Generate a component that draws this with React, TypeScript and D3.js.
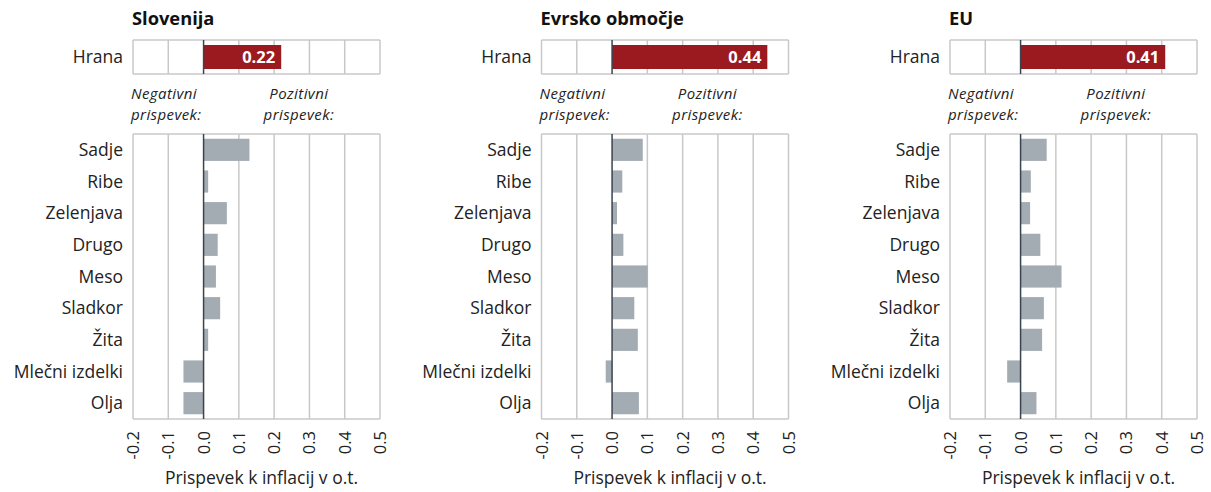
import React from "react";
import * as d3 from "d3";

const categories = ["Sadje", "Ribe", "Zelenjava", "Drugo", "Meso", "Sladkor", "Žita", "Mlečni izdelki", "Olja"];
const panelTitles = ["Slovenija", "Evrsko območje", "EU"];
const hranaValues = [0.22, 0.44, 0.41];
const sloValues = [0.13, 0.013, 0.066, 0.04, 0.035, 0.047, 0.013, -0.057, -0.057];
const euroValues = [0.087, 0.029, 0.014, 0.032, 0.101, 0.063, 0.073, -0.018, 0.076];
const euValues = [0.074, 0.029, 0.027, 0.056, 0.116, 0.066, 0.061, -0.038, 0.045];
const ticks = [-0.2, -0.1, 0.0, 0.1, 0.2, 0.3, 0.4, 0.5];
const xLabel = "Prispevek k inflacij v o.t.";

const seriesList = [sloValues, euroValues, euValues];

const FONT = "'Open Sans', 'Noto Sans', sans-serif";
const GRID = "#c8c8c8";
const ZERO = "#3a4450";
const BAR = "#a3abb3";
const RED = "#9b1a20";

function Panel({ idx }: { idx: number }) {
  const left = 133 + idx * 408.5;
  const width = 247;
  const x = d3.scaleLinear().domain([-0.2, 0.5]).range([left, left + width]);
  const y = d3.scaleBand<string>().domain(categories).range([134, 419]).paddingInner(0.3).paddingOuter(0.15);
  const values = seriesList[idx];
  const hTop = 40, hBot = 74;
  const hv = hranaValues[idx];
  const fmt = (t: number) => d3.format(".1f")(t).replace("\u2212", "-");
  const gridX = ticks.filter((t) => t !== 0);
  return (
    <g>
      <text x={left - 1} y={25} fontFamily={FONT} fontWeight={700} fontSize={18.3} fill="#111">{panelTitles[idx]}</text>
      {/* Hrana box */}
      <text x={left - 10} y={(hTop + hBot) / 2 + 6} textAnchor="end" fontFamily={FONT} fontSize={17.5} fill="#222">Hrana</text>
      {gridX.map((t) => (
        <line key={"hg" + t} x1={x(t)} x2={x(t)} y1={hTop} y2={hBot} stroke={GRID} strokeWidth={1.5} />
      ))}
      <line x1={x(-0.2)} x2={x(0.5)} y1={hTop} y2={hTop} stroke={GRID} strokeWidth={1.5} />
      <line x1={x(-0.2)} x2={x(0.5)} y1={hBot} y2={hBot} stroke={GRID} strokeWidth={1.5} />
      <rect x={x(0)} y={45} width={x(hv) - x(0)} height={24} fill={RED} />
      <text x={x(hv) - 6} y={63} textAnchor="end" fontFamily={FONT} fontWeight={700} fontSize={16.5} fill="#fff">{hv.toFixed(2)}</text>
      <line x1={x(0)} x2={x(0)} y1={hTop} y2={hBot} stroke={ZERO} strokeWidth={1.5} />
      {/* Annotations */}
      <text fontFamily={FONT} fontStyle="italic" fontSize={15} letterSpacing={0.4} fill="#222">
        <tspan x={left - 2} y={99}>Negativni</tspan>
        <tspan x={left - 2} y={119.5}>prispevek:</tspan>
      </text>
      <text fontFamily={FONT} fontStyle="italic" fontSize={15} letterSpacing={0.4} fill="#222" textAnchor="middle">
        <tspan x={x(0.27)} y={99}>Pozitivni</tspan>
        <tspan x={x(0.27)} y={119.5}>prispevek:</tspan>
      </text>
      {/* Main plot */}
      {gridX.map((t) => (
        <line key={"g" + t} x1={x(t)} x2={x(t)} y1={134} y2={419} stroke={GRID} strokeWidth={1.5} />
      ))}
      <line x1={x(-0.2)} x2={x(0.5)} y1={134} y2={134} stroke={GRID} strokeWidth={1.5} />
      <line x1={x(-0.2)} x2={x(0.5)} y1={419} y2={419} stroke={GRID} strokeWidth={1.5} />
      {categories.map((c, i) => {
        const v = values[i];
        return (
          <g key={c}>
            <rect x={x(Math.min(0, v))} y={y(c)} width={Math.abs(x(v) - x(0))} height={y.bandwidth()} fill={BAR} />
            <text x={left - 10} y={(y(c) as number) + y.bandwidth() / 2 + 6} textAnchor="end" fontFamily={FONT} fontSize={17.5} fill="#222">{c}</text>
          </g>
        );
      })}
      <line x1={x(0)} x2={x(0)} y1={134} y2={419} stroke={ZERO} strokeWidth={1.5} />
      {ticks.map((t) => (
        <text key={"t" + t} transform={`translate(${x(t) + 6},${431}) rotate(-90)`} textAnchor="end" fontFamily={FONT} fontSize={16.5} fill="#222">{fmt(t)}</text>
      ))}
      <text x={left + width / 2 + 5} y={484} textAnchor="middle" fontFamily={FONT} fontSize={17.5} fill="#222">{xLabel}</text>
    </g>
  );
}

export default function App() {
  return (
    <svg width={1211} height={492} style={{ position: "absolute", left: 0, top: 0, background: "#fff" }}>
      {[0, 1, 2].map((i) => (
        <Panel key={i} idx={i} />
      ))}
    </svg>
  );
}
